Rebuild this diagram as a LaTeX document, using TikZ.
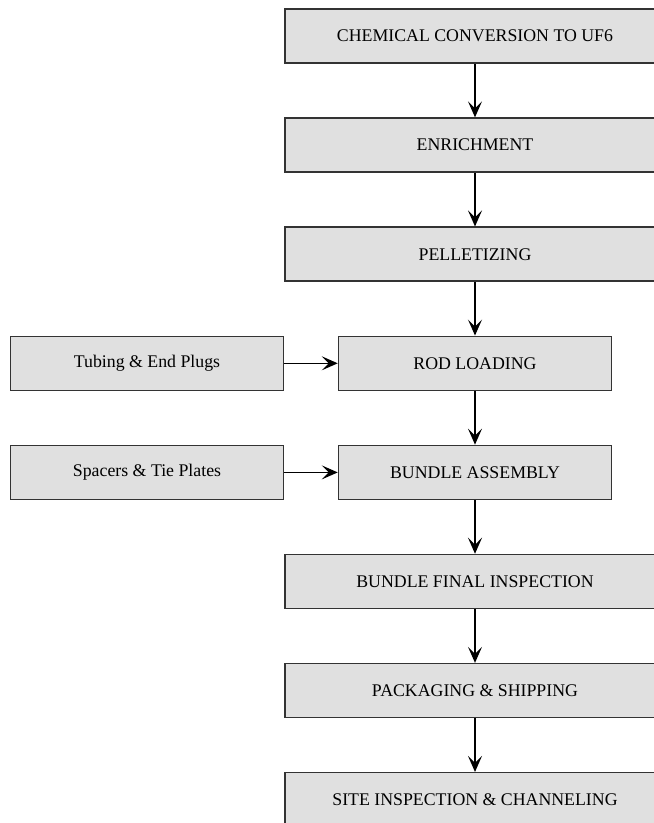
\documentclass[tikz,border=0pt]{standalone}
\usepackage{fontspec}
\setmainfont{Liberation Serif}
\usetikzlibrary{positioning,arrows.meta}

\begin{document}
\begin{tikzpicture}[x=1pt, y=1pt,
    etapa/.style={draw=black!80, fill=black!12, line width=1.5pt, align=center,
                  font=\fontsize{17.8}{21}\selectfont, minimum height=54pt, inner sep=0pt},
    larga/.style={etapa, minimum width=380pt},
    curta/.style={etapa, minimum width=273pt},
    seta/.style={-{Stealth[length=16pt, width=14pt, inset=7pt]}, line width=1.3pt},
    node distance=53.6pt and 53.5pt]
  \clip (0,0) rectangle (654,-823);
  \node[larga] at (475,-36) (e1) {CHEMICAL CONVERSION TO UF6};
  \node[larga, below=of e1] (e2) {ENRICHMENT};
  \node[larga, below=of e2] (e3) {PELLETIZING};
  \node[curta, below=of e3] (e4) {ROD LOADING};
  \node[curta, below=of e4] (e5) {BUNDLE ASSEMBLY};
  \node[larga, below=of e5] (e6) {BUNDLE FINAL INSPECTION};
  \node[larga, below=of e6] (e7) {PACKAGING \& SHIPPING};
  \node[larga, below=of e7] (e8) {SITE INSPECTION \& CHANNELING};
  \node[curta, left=of e4] (tubos) {Tubing \& End Plugs};
  \node[curta, left=of e5] (espac) {Spacers \& Tie Plates};
  \draw[seta] (e1) -- (e2);
  \draw[seta] (e2) -- (e3);
  \draw[seta] (e3) -- (e4);
  \draw[seta] (e4) -- (e5);
  \draw[seta] (e5) -- (e6);
  \draw[seta] (e6) -- (e7);
  \draw[seta] (e7) -- (e8);
  \draw[seta] (tubos) -- (e4);
  \draw[seta] (espac) -- (e5);
\end{tikzpicture}
\end{document}
